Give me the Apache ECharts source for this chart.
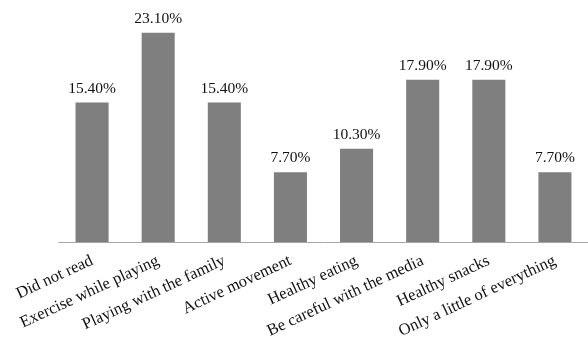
<!DOCTYPE html>
<html>
<head>
<meta charset="utf-8">
<script src="https://cdn.jsdelivr.net/npm/echarts@6/dist/echarts.min.js"></script>
<style>
html, body { margin: 0; padding: 0; background: #fff; }
#chart { width: 588px; height: 345px; }
</style>
</head>
<body>
<div id="chart"></div>
<script>
var categories = ['Did not read', 'Exercise while playing', 'Playing with the family', 'Active movement',
	'Healthy eating', 'Be careful with the media', 'Healthy snacks', 'Only a little of everything'];
var shares = [15.4, 23.1, 15.4, 7.7, 10.3, 17.9, 17.9, 7.7];

var myChart = echarts.init(document.getElementById('chart'));
var option = {
	animation: false,
	grid: { left: 59, top: 15.5, width: 532, height: 226.5 },
	xAxis: {
		type: 'category',
		data: categories,
		axisLine: { lineStyle: { color: '#a6a6a6', width: 1 } },
		axisTick: { length: 4, lineStyle: { color: '#a6a6a6' } },
		axisLabel: {
			interval: 0,
			rotate: 25,
			margin: 18,
			color: '#111',
			fontFamily: 'Liberation Serif',
			fontSize: 16.5
		}
	},
	yAxis: {
		type: 'value',
		min: 0,
		max: 25,
		show: false,
		splitLine: { show: false }
	},
	series: [{
		type: 'bar',
		data: shares,
		barWidth: '50%',
		itemStyle: { color: '#7f7f7f' },
		label: {
			show: true,
			position: 'top',
			distance: 6,
			color: '#111',
			fontFamily: 'Liberation Serif',
			fontSize: 15.5,
			formatter: function (p) { return p.value.toFixed(2) + '%'; }
		}
	}]
};
myChart.setOption(option);
</script>
</body>
</html>
